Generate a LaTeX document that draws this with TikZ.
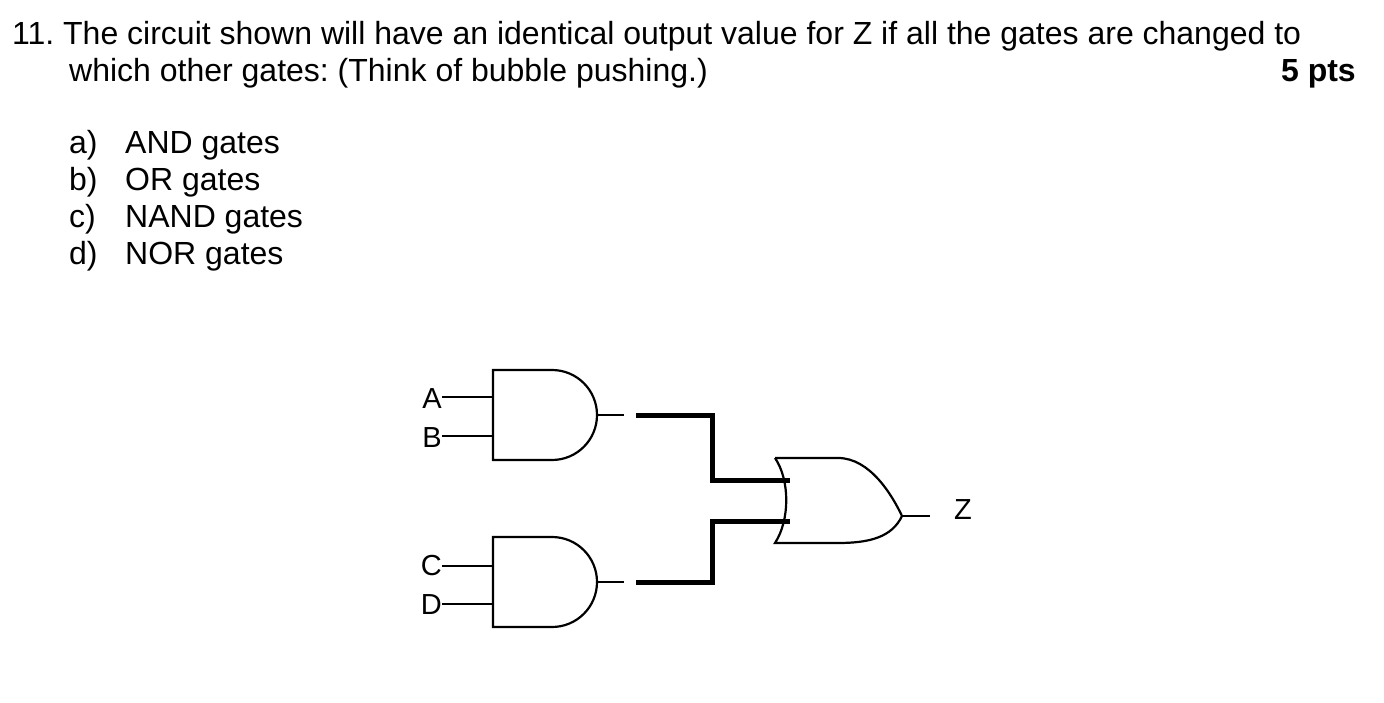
\documentclass[tikz,border=0pt]{standalone}
\usepackage{fontspec}
\setmainfont{Liberation Sans}
\begin{document}
\frenchspacing
\begin{tikzpicture}[x=1pt,y=-1pt,
  txt/.style={anchor=base west,inner sep=0pt,font=\fontsize{32}{35}\selectfont},
  lbl/.style={inner sep=0pt,font=\fontsize{29}{32}\selectfont},
  wire/.style={line width=2.2pt},
  bus/.style={line width=5pt},
  gate/.style={line width=2.2pt}]
\useasboundingbox (0,0) rectangle (1384,703);
\node[txt] (l1) at (12,45) {11.\ The circuit shown will have an identical output value for Z if all the gates are changed to};
\node[txt] (l2) at (69,82) {which other gates: (Think of bubble pushing.)};
\node[txt,anchor=base east,font=\fontsize{32}{35}\bfseries] (pts) at (1356,82) {5 pts};
\foreach \l/\t/\y in {a/AND gates/154,b/OR gates/191,c/NAND gates/228,d/NOR gates/265}{
  \node[txt] (lab\l) at (69,\y) {\l)};
  \node[txt] (opt\l) at (125,\y) {\t};
}
% AND gates
\draw[gate] (552,370) -- (493,370) -- (493,460) -- (552,460) arc[start angle=90,end angle=-90,radius=45];
\draw[gate] (552,537) -- (493,537) -- (493,627) -- (552,627) arc[start angle=90,end angle=-90,radius=45];
% OR gate
\draw[gate] (775,458) -- (838,458) .. controls (870,458) and (892,495) .. (902,516)
  .. controls (892,537) and (870,543) .. (838,543) -- (775,543)
  .. controls (790,520) and (790,480) .. (775,458);
% inputs
\node[lbl,anchor=east] (A) at (442,399) {A};
\node[lbl,anchor=east] (B) at (442,438) {B};
\node[lbl,anchor=east] (C) at (442,566) {C};
\node[lbl,anchor=east] (D) at (442,605) {D};
\draw[wire] (A.east |- 0,397) -- (493,397);
\draw[wire] (B.east |- 0,436) -- (493,436);
\draw[wire] (C.east |- 0,566) -- (493,566);
\draw[wire] (D.east |- 0,604) -- (493,604);
% outputs
\coordinate (o1) at (597,415);
\coordinate (o2) at (597,582);
\draw[wire] (o1) -- (624,415);
\draw[wire] (o2) -- (624,582);
\draw[bus] (636,415) -- (712,415) -- (712,480) -- (790,480);
\draw[bus] (636,582) -- (712,582) -- (712,521) -- (790,521);
\node[lbl,anchor=center] (Z) at (963,510) {Z};
\draw[wire] (902,516) -- (930,516);
\end{tikzpicture}
\end{document}
